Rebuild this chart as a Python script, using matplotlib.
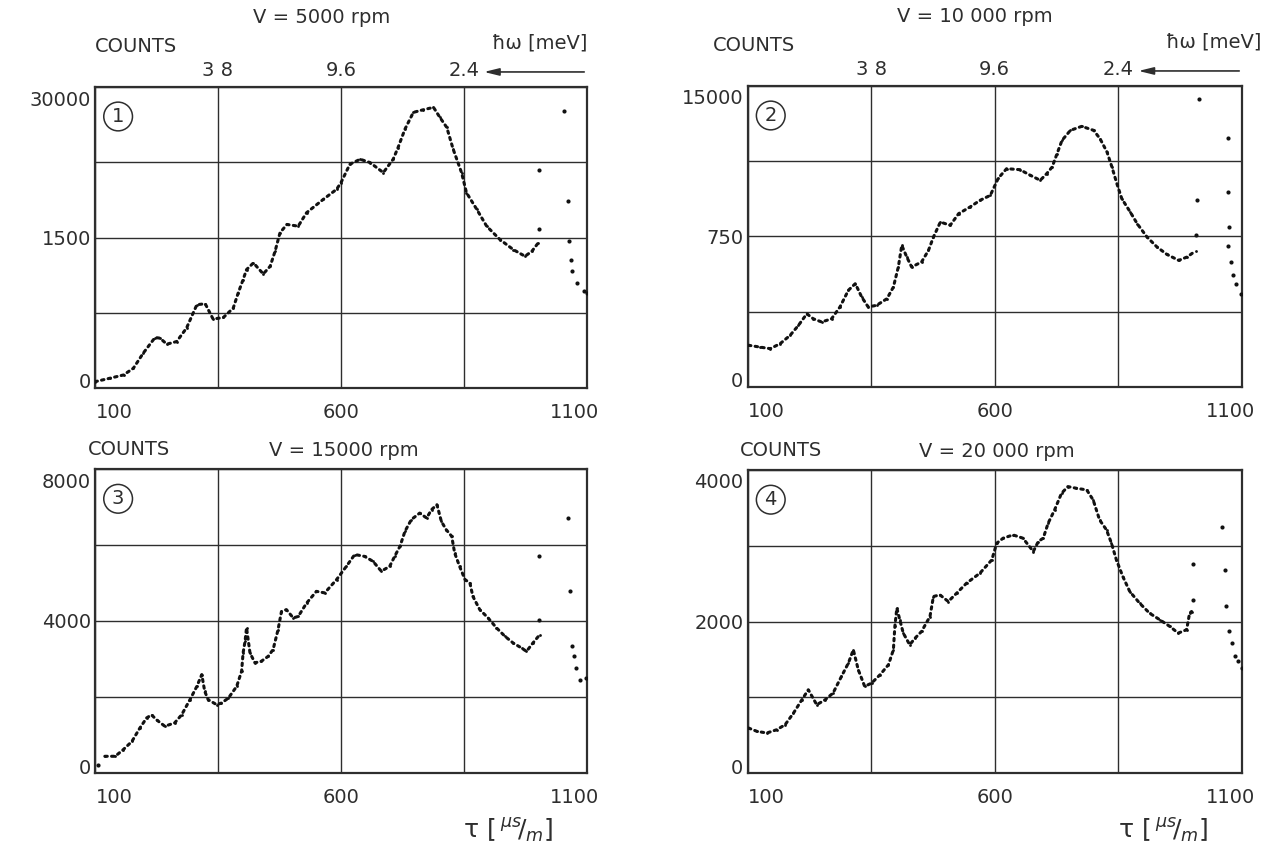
import numpy as np
import matplotlib
matplotlib.use("Agg")
import matplotlib.pyplot as plt
from matplotlib.transforms import ScaledTranslation

plt.rcParams['font.family'] = ['DejaVu Sans']
plt.rcParams['mathtext.fontset'] = 'dejavusans'

INK = '#2e2e2e'

# panel 1: V = 5000 rpm
tau1 = [100, 130, 158, 178, 198, 222, 232, 246, 266, 286, 307, 324, 340, 361, 381,
        391, 401, 408, 422, 442, 456, 466, 476, 490, 513, 530, 564, 591, 600, 618,
        639, 659, 686, 706, 716, 730, 747, 767, 788, 801, 815, 828, 845, 855, 876,
        896, 923, 950, 974, 988, 1001]
counts1 = [630, 970, 1300, 1970, 3470, 5030, 4970, 4370, 4630, 5970, 8300, 8400, 6870,
           7030, 7970, 9470, 10800, 11800, 12470, 11370, 12130, 13630, 15470, 16300,
           16130, 17470, 18800, 19800, 20470, 22300, 22800, 22470, 21470, 22800, 23970,
           25800, 27470, 27730, 27970, 26970, 25970, 23800, 21470, 19470, 17800, 16130,
           14800, 13800, 13130, 13630, 14470]
tau1_x = [1003, 1003, 1053, 1062, 1063, 1067, 1070, 1079, 1093, 1100]
counts1_x = [21730, 15800, 27630, 18630, 14630, 12800, 11630, 10470, 9630, 9500]

# panel 2: V = 10 000 rpm
tau2 = [102, 125, 146, 166, 186, 203, 220, 233, 250, 270, 287, 304, 318, 331, 344,
        361, 382, 395, 405, 412, 422, 432, 452, 466, 476, 490, 510, 527, 550, 570,
        591, 607, 624, 651, 672, 692, 705, 716, 726, 736, 753, 776, 800, 813, 827,
        837, 847, 857, 874, 888, 908, 928, 948, 972, 989, 1006]
counts2 = [2080, 1990, 1910, 2160, 2570, 3070, 3650, 3400, 3240, 3400, 3990, 4820, 5150,
           4480, 3990, 4070, 4400, 4980, 5980, 7060, 6480, 5980, 6230, 6810, 7470, 8220,
           8060, 8640, 8970, 9300, 9550, 10400, 10880, 10830, 10550, 10300, 10630, 10960,
           11630, 12290, 12790, 12990, 12790, 12370, 11710, 10960, 10130, 9380, 8720,
           8140, 7470, 6980, 6610, 6310, 6480, 6780]
tau2_x = [1007, 1009, 1014, 1071, 1072, 1074, 1072, 1078, 1082, 1088, 1098]
counts2_x = [7560, 9300, 14340, 12420, 9720, 7970, 7030, 6230, 5570, 5120, 4650]

# panel 3: V = 15000 rpm
tau3 = [120, 141, 157, 175, 191, 205, 215, 225, 242, 262, 276, 293, 307, 317, 323,
        330, 347, 357, 371, 388, 398, 401, 405, 408, 415, 425, 438, 452, 462, 472,
        479, 489, 503, 513, 530, 550, 567, 591, 611, 628, 648, 665, 682, 699, 709,
        720, 730, 743, 760, 774, 784, 795, 804, 814, 825, 831, 841, 852, 862, 868,
        882, 899, 916, 933, 950, 967, 977, 990, 1004]
counts3 = [440, 440, 610, 830, 1180, 1450, 1530, 1400, 1230, 1320, 1530, 1930, 2280,
           2590, 2150, 1930, 1800, 1840, 1970, 2280, 2680, 3160, 3470, 3820, 3160, 2900,
           2940, 3070, 3250, 3770, 4250, 4300, 4080, 4120, 4470, 4780, 4740, 5090, 5440,
           5750, 5700, 5570, 5310, 5440, 5700, 5970, 6360, 6670, 6840, 6710, 6930, 7060,
           6620, 6400, 6230, 5790, 5440, 5090, 5000, 4650, 4300, 4080, 3820, 3600, 3420,
           3290, 3200, 3420, 3640]
tau3_x = [107, 1002, 1002, 1061, 1065, 1070, 1074, 1078, 1085, 1097]
counts3_x = [220, 4020, 5700, 6710, 4780, 3330, 3070, 2760, 2460, 2500]

# panel 4: V = 20 000 rpm
tau4 = [102, 119, 139, 159, 176, 193, 210, 223, 240, 257, 273, 290, 304, 314, 324,
        337, 351, 368, 385, 395, 398, 402, 408, 415, 428, 439, 452, 469, 476, 489,
        506, 523, 543, 570, 594, 604, 617, 637, 657, 678, 688, 698, 708, 721, 735,
        748, 765, 786, 799, 812, 826, 836, 846, 859, 873, 893, 913, 934, 954, 971,
        988, 994, 998]
counts4 = [594, 550, 528, 571, 637, 791, 967, 1099, 901, 967, 1055, 1275, 1451, 1626,
           1363, 1143, 1187, 1297, 1429, 1626, 1935, 2176, 2022, 1847, 1693, 1781, 1869,
           2066, 2330, 2352, 2264, 2374, 2506, 2638, 2813, 3034, 3100, 3143, 3100, 2924,
           3056, 3100, 3298, 3473, 3693, 3781, 3759, 3737, 3605, 3341, 3209, 3034, 2813,
           2594, 2396, 2242, 2110, 2022, 1935, 1847, 1891, 2110, 2132]
tau4_x = [1000, 1000, 1060, 1066, 1068, 1073, 1079, 1085, 1092, 1100]
counts4_x = [2286, 2761, 3254, 2682, 2211, 1869, 1715, 1539, 1473, 1385]

ytop = [30000, 15000, 8000, 4000]
ylabels = [['0', '1500', '30000'], ['0', '750', '15000'],
           ['0', '4000', '8000'], ['0', '2000', '4000']]
titles = ['V = 5000 rpm', 'V = 10 000 rpm', 'V = 15000 rpm', 'V = 20 000 rpm']
top_labels = ['3 8', '9.6', '2.4']

W, H = 1284, 852
fig = plt.figure(figsize=(W / 100, H / 100), dpi=100)
fig.patch.set_facecolor('white')

# axes boxes in pixels: left, top, right, bottom
boxes = [(95, 87, 587, 388), (747.5, 86, 1242, 387),
         (95, 469, 587, 773), (747.5, 470, 1242, 773)]

data = [(tau1, counts1, tau1_x, counts1_x), (tau2, counts2, tau2_x, counts2_x),
        (tau3, counts3, tau3_x, counts3_x), (tau4, counts4, tau4_x, counts4_x)]

fs = 14
for i, (l, t, r, b) in enumerate(boxes):
    ax = fig.add_axes([l / W, 1 - b / H, (r - l) / W, (b - t) / H])
    ax.set_xlim(100, 1100)
    ax.set_ylim(0, ytop[i])
    ax.set_xticks([100, 350, 600, 850, 1100])
    ax.set_xticklabels(['100', '', '600', '', '1100'])
    ax.set_yticks(np.linspace(0, ytop[i], 5))
    ax.set_yticklabels([ylabels[i][0], '', ylabels[i][1], '', ylabels[i][2]])
    ax.grid(True, color=INK, lw=1.0)
    ax.tick_params(length=0, labelsize=fs, labelcolor=INK)
    ax.tick_params(axis='x', pad=11)
    ax.tick_params(axis='y', pad=3)
    for s in ax.spines.values():
        s.set_color(INK)
        s.set_linewidth(1.6)

    # nudge the end labels inwards like the original lettering
    xl = ax.get_xticklabels()
    xl[0].set_transform(xl[0].get_transform() + ScaledTranslation(0.19, 0, fig.dpi_scale_trans))
    xl[-1].set_transform(xl[-1].get_transform() + ScaledTranslation(-0.12, 0, fig.dpi_scale_trans))
    yl = ax.get_yticklabels()
    yl[0].set_transform(yl[0].get_transform() + ScaledTranslation(0, 0.07, fig.dpi_scale_trans))
    yl[-1].set_transform(yl[-1].get_transform() + ScaledTranslation(0, -0.11, fig.dpi_scale_trans))

    tx, cy, tx_x, cy_x = data[i]
    ax.plot(tx, cy, color='#111', ls=(0, (0.8, 1.4)), lw=2.2,
            dash_capstyle='round', marker='o', ms=2.0, mew=0, zorder=3)
    ax.plot(tx_x, cy_x, ls='none', marker='o', ms=3.0, mew=0, color='#111', zorder=3)

    # circled panel number
    ax.text(0.047, 0.902, str(i + 1), transform=ax.transAxes, fontsize=14,
            color=INK, ha='center', va='center',
            bbox=dict(boxstyle='circle,pad=0.25', fc='white', ec=INK, lw=1.1))

    if i < 2:
        ax.text(0.0 if i == 0 else -0.07, 1.133, 'COUNTS', transform=ax.transAxes,
                fontsize=fs, color=INK, ha='left', va='center')
        ax.text(0.46, 1.23, titles[i], transform=ax.transAxes,
                fontsize=fs, color=INK, ha='center', va='center')
        for xv, lab in zip([350, 600, 850], top_labels):
            ax.text(xv, 1.055, lab, transform=ax.get_xaxis_transform(),
                    fontsize=fs, color=INK, ha='center', va='center')
        ax.annotate('', xy=(885, 1.05), xytext=(1100, 1.05),
                    xycoords=ax.get_xaxis_transform(),
                    textcoords=ax.get_xaxis_transform(),
                    arrowprops=dict(arrowstyle='-|>,head_length=0.9,head_width=0.22',
                                    color=INK, lw=1.2))
        ax.text(1.0 if i == 0 else 1.04, 1.145, 'ħω [meV]',
                transform=ax.transAxes, fontsize=fs, color=INK, ha='right', va='center')
    else:
        ax.text(-0.015, 1.065, 'COUNTS', transform=ax.transAxes,
                fontsize=fs, color=INK, ha='left', va='center')
        ax.text(0.505, 1.06, titles[i], transform=ax.transAxes,
                fontsize=fs, color=INK, ha='center', va='center')
        ax.text(940, -0.19, r'$\mathrm{\tau}\ \left[\,{}^{\mu s}\!/_{m}\right]$',
                transform=ax.get_xaxis_transform(), fontsize=18, color=INK,
                ha='center', va='center')

fig.savefig('out.png', dpi=100, facecolor='white')
